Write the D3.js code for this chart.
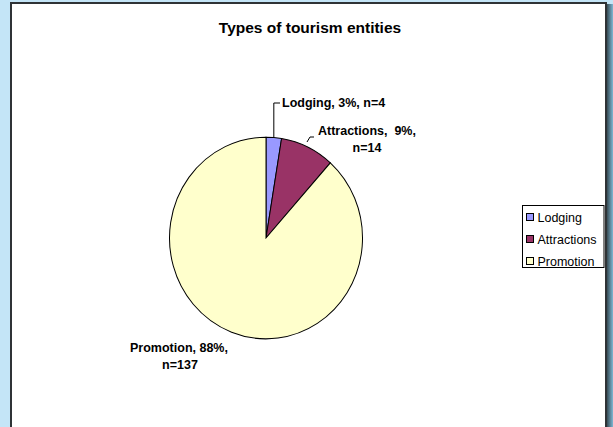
<!DOCTYPE html>
<html>
<head>
<meta charset="utf-8">
<script src="https://cdn.jsdelivr.net/npm/d3@7"></script>
<style>
body{margin:0;background:#c4e5f7;}
svg{display:block;font-family:Arial,"Liberation Sans",sans-serif;}
</style>
</head>
<body>
<svg width="613" height="427"></svg>
<script>
var categories = ['Lodging', 'Attractions', 'Promotion'];
var counts = [4, 14, 137];
var percents = ['3%', '9%', '88%'];
var colors = ['#9999ff', '#993366', '#ffffcc'];

var svg = d3.select('svg');

// background + frame
var grad = svg.append('defs').append('linearGradient').attr('id', 'edge');
grad.append('stop').attr('offset', '0%').attr('stop-color', '#2b3a40');
grad.append('stop').attr('offset', '100%').attr('stop-color', '#7fb7d4');
svg.append('rect').attr('x', 0).attr('y', 0).attr('width', 613).attr('height', 427).attr('fill', '#c4e5f7');
svg.append('rect').attr('x', 606).attr('y', 4).attr('width', 7).attr('height', 423).attr('fill', 'url(#edge)');
svg.append('rect').attr('x', 11).attr('y', 3).attr('width', 595).attr('height', 430)
   .attr('fill', '#fff').attr('stroke', '#2f3336').attr('stroke-width', 2);

svg.append('text').attr('x', 310).attr('y', 33).attr('text-anchor', 'middle')
   .attr('font-size', 15.5).attr('font-weight', 'bold').text('Types of tourism entities');

// pie
var cx = 266, cy = 238, r = 96.5;
var pie = d3.pie().sort(null)(counts);
var arc = d3.arc().innerRadius(0).outerRadius(r);
var g = svg.append('g').attr('transform', 'translate(' + cx + ',' + cy + ') scale(1,1.045)');
g.selectAll('path').data(pie).enter().append('path')
 .attr('d', arc)
 .attr('fill', function(d, i){ return colors[i]; })
 .attr('stroke', '#000').attr('stroke-width', 1);

// labels
var lbl = svg.append('g').attr('font-size', 12.5).attr('font-weight', 'bold').attr('fill', '#000');
lbl.append('text').attr('x', 282).attr('y', 107).text(categories[0] + ', ' + percents[0] + ', n=' + counts[0]);
lbl.append('text').attr('x', 318).attr('y', 135).text(categories[1] + ',\u00a0 ' + percents[1] + ',');
lbl.append('text').attr('x', 367).attr('y', 152).attr('text-anchor', 'middle').text('n=' + counts[1]);
lbl.append('text').attr('x', 179).attr('y', 352).attr('text-anchor', 'middle').text(categories[2] + ', ' + percents[2] + ',');
lbl.append('text').attr('x', 180).attr('y', 369).attr('text-anchor', 'middle').text('n=' + counts[2]);

// leader lines
var mid0 = (pie[0].startAngle + pie[0].endAngle) / 2;
var p0 = [cx + r * Math.sin(mid0), cy - r * 1.045 * Math.cos(mid0)];
svg.append('path').attr('d', 'M' + p0[0] + ',' + p0[1] + 'L' + p0[0] + ',103L280,103')
   .attr('fill', 'none').attr('stroke', '#000');
svg.append('path').attr('d', 'M307,142L310,137L314,137')
   .attr('fill', 'none').attr('stroke', '#000');

// legend
var lg = svg.append('g').attr('transform', 'translate(522.5,205.5)');
lg.append('rect').attr('width', 81.5).attr('height', 62).attr('fill', '#fff').attr('stroke', '#000');
var item = lg.selectAll('g.item').data(categories).enter().append('g')
  .attr('transform', function(d, i){ return 'translate(4,' + (8 + i * 22) + ')'; });
item.append('rect').attr('width', 7).attr('height', 7)
  .attr('fill', function(d, i){ return colors[i]; }).attr('stroke', '#000');
item.append('text').attr('x', 11).attr('y', 8).attr('font-size', 12.5).text(function(d){ return d; });
</script>
</body>
</html>
